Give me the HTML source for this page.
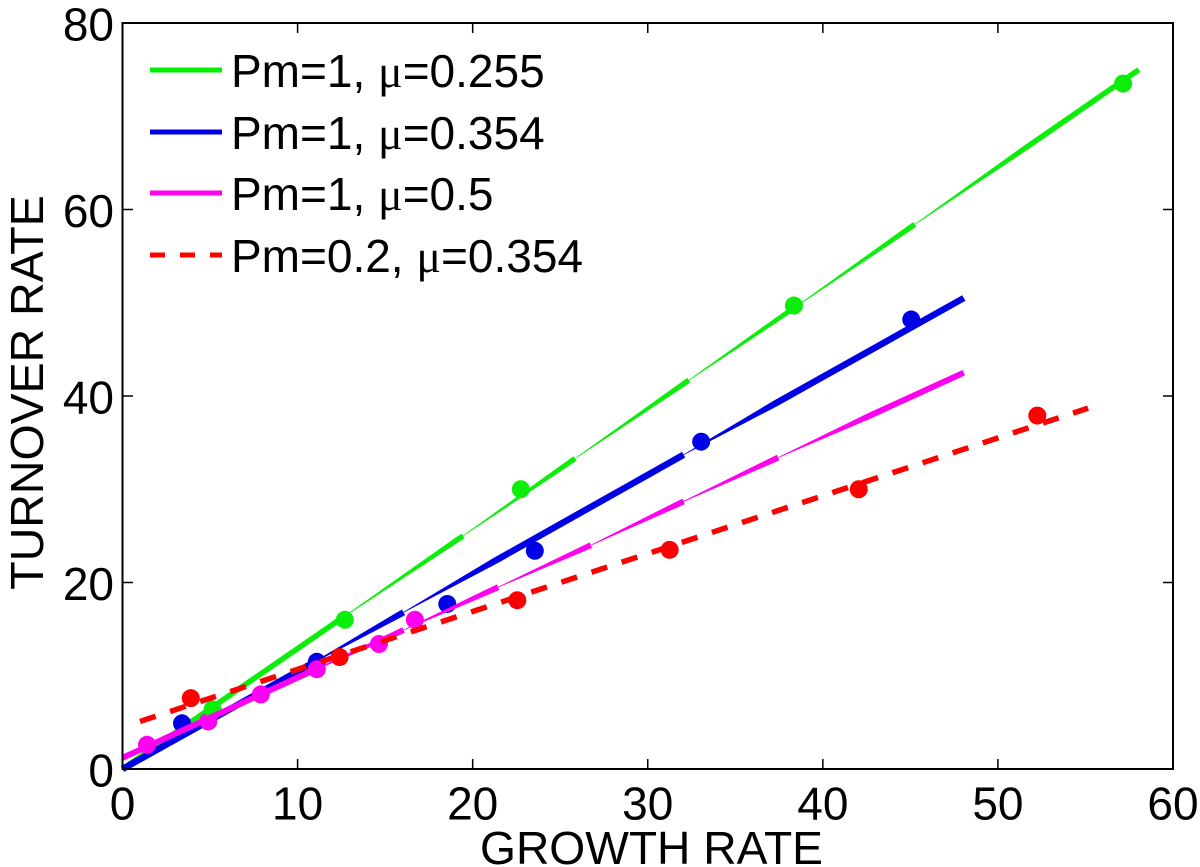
<!DOCTYPE html>
<html>
<head>
<meta charset="utf-8">
<title>Turnover rate vs growth rate</title>
<style>
html,body{margin:0;padding:0;background:#fff;width:1200px;height:867px;overflow:hidden}
svg{display:block}
text{font-family:"Liberation Sans",sans-serif;fill:#000}
.mu{font-family:"Liberation Serif",serif}
</style>
</head>
<body>
<svg id="chart" width="1200" height="867" viewBox="0 0 1200 867">
  <g id="plot"></g>
  <rect x="122.5" y="23" width="1050.5" height="746" fill="none" stroke="#000" stroke-width="2"/>
  <g id="axes"></g>
  <text x="651.5" y="864" font-size="46.2" text-anchor="middle">GROWTH RATE</text>
  <text transform="translate(43,392.5) rotate(-90)" font-size="46.5" text-anchor="middle">TURNOVER RATE</text>
  <g>
    <g>
      <line x1="150" x2="222" y1="70" y2="70" stroke="#00f000" stroke-width="5"/>
      <text x="231" y="87" font-size="46">Pm=1, <tspan class="mu">μ</tspan>=0.255</text>
    </g>
    <g>
      <line x1="150" x2="222" y1="132" y2="132" stroke="#0000e6" stroke-width="5"/>
      <text x="231" y="149" font-size="46">Pm=1, <tspan class="mu">μ</tspan>=0.354</text>
    </g>
    <g>
      <line x1="150" x2="222" y1="193" y2="193" stroke="#ff00f0" stroke-width="5"/>
      <text x="231" y="210" font-size="46">Pm=1, <tspan class="mu">μ</tspan>=0.5</text>
    </g>
    <g>
      <line x1="150" x2="222" y1="255" y2="255" stroke="#ff0000" stroke-width="5" stroke-dasharray="15 15"/>
      <text x="231" y="272" font-size="46">Pm=0.2, <tspan class="mu">μ</tspan>=0.354</text>
    </g>
  </g>
</svg>
<script>
var xTicks = [0, 10, 20, 30, 40, 50, 60];
var yTicks = [0, 20, 40, 60, 80];

var greenLineX = [0, 12.7, 19.45, 25.85, 32.35, 38.55, 45.25, 58.05];
var greenLineY = [0, 16.4, 25, 33.3, 41.7, 49.7, 58.4, 75];
var blueLineX = [0, 10.7, 16.05, 32.05, 48.05];
var blueLineY = [0, 11.2, 16.8, 33.7, 50.5];
var magentaLineX = [0, 10.7, 16.05, 21.45, 26.75, 32.05, 37.45, 48.05];
var magentaLineY = [1.2, 10.4, 14.9, 19.5, 24, 28.7, 33.4, 42.5];
var redLineX = [1, 55.15];
var redLineY = [5.1, 38.7];

var greenPointsX = [5.15, 12.7, 22.75, 38.35, 57.15];
var greenPointsY = [6.4, 16, 30, 49.7, 73.5];
var bluePointsX = [3.4, 11.1, 18.55, 23.55, 33.05, 45.05];
var bluePointsY = [4.9, 11.5, 17.7, 23.4, 35.1, 48.2];
var magentaPointsX = [1.4, 4.9, 7.9, 11.1, 14.65, 16.7];
var magentaPointsY = [2.6, 5.1, 8, 10.7, 13.4, 16];
var redPointsX = [3.9, 12.4, 22.55, 31.25, 42.05, 52.25];
var redPointsY = [7.6, 12, 18.1, 23.5, 30, 37.9];

var NS = 'http://www.w3.org/2000/svg';
var plot = document.getElementById('plot');
var axes = document.getElementById('axes');

function sx(v) { return 122.5 + v * (1173 - 122.5) / 60; }
function sy(v) { return 769 - v * (769 - 23) / 80; }

function make(tag, attrs, parent) {
  var el = document.createElementNS(NS, tag);
  for (var k in attrs) el.setAttribute(k, attrs[k]);
  parent.appendChild(el);
  return el;
}

function drawTaperedLine(xs, ys, color, rampData, maxW, name) {
  var minW = 0.7;
  var g = make('g', {}, plot);
  
  
  for (var i = 0; i < xs.length - 1; i++) {
    var x0 = sx(xs[i]), y0 = sy(ys[i]), x1 = sx(xs[i + 1]), y1 = sy(ys[i + 1]);
    var len = Math.hypot(x1 - x0, y1 - y0);
    var nx = -(y1 - y0) / len, ny = (x1 - x0) / len;
    var t = Math.min(1, rampData / (xs[i + 1] - xs[i]));
    var xm = x0 + (x1 - x0) * t, ym = y0 + (y1 - y0) * t;
    var hs = (i === 0 ? maxW : minW) / 2, hm = maxW / 2;
    var pts = [
      [x0 + nx * hs, y0 + ny * hs], [xm + nx * hm, ym + ny * hm], [x1 + nx * hm, y1 + ny * hm],
      [x1 - nx * hm, y1 - ny * hm], [xm - nx * hm, ym - ny * hm], [x0 - nx * hs, y0 - ny * hs]
    ];
    var seg = make('polygon', { points: pts.map(function (p) { return p[0].toFixed(2) + ',' + p[1].toFixed(2); }).join(' '), fill: color }, g);
    
    
  }
}

function drawPoints(xs, ys, color, name) {
  var g = make('g', {}, plot);
  
  
  for (var i = 0; i < xs.length; i++) {
    var c = make('circle', { cx: sx(xs[i]), cy: sy(ys[i]), r: 9, fill: color }, g);
    
    
  }
}

drawTaperedLine(greenLineX, greenLineY, '#0aee0a', 6.4, 5.5, 'green-line');
drawTaperedLine(blueLineX, blueLineY, '#0000e6', 5.3, 6.5, 'blue-line');
drawPoints(bluePointsX, bluePointsY, '#0000e6', 'blue-markers');
drawPoints(magentaPointsX, magentaPointsY, '#ff00f0', 'magenta-markers');
drawPoints(greenPointsX, greenPointsY, '#0aee0a', 'green-markers');
drawTaperedLine(magentaLineX, magentaLineY, '#ff00f0', 5.3, 6, 'magenta-line');
drawPoints(redPointsX, redPointsY, '#ff0000', 'red-markers');

var redLine = make('line', {
  x1: sx(redLineX[0]), y1: sy(redLineY[0]), x2: sx(redLineX[1]), y2: sy(redLineY[1]),
  stroke: '#ff0000', 'stroke-width': 5.5, 'stroke-dasharray': '16.5 15.2'
}, plot);



xTicks.forEach(function (v) {
  var x = sx(v);
  if (v > 0 && v < 60) {
    var b = make('line', { x1: x, x2: x, y1: 769, y2: 759, stroke: '#000', 'stroke-width': 1.5 }, axes);
    
    
    var t = make('line', { x1: x, x2: x, y1: 23, y2: 33, stroke: '#000', 'stroke-width': 1.5 }, axes);
    
    
  }
  var lab = make('text', { x: x, y: 819.5, 'font-size': 46, 'text-anchor': 'middle' }, axes);
  lab.textContent = v;
  
  
});

yTicks.forEach(function (v) {
  var y = sy(v);
  if (v > 0 && v < 80) {
    var l = make('line', { x1: 122.5, x2: 133, y1: y, y2: y, stroke: '#000', 'stroke-width': 1.5 }, axes);
    
    
    var r = make('line', { x1: 1173, x2: 1163, y1: y, y2: y, stroke: '#000', 'stroke-width': 1.5 }, axes);
    
    
  }
  var lab = make('text', { x: 114, y: y + 17.5, 'font-size': 46, 'text-anchor': 'end' }, axes);
  lab.textContent = v;
  
  
});
</script>
</body>
</html>
